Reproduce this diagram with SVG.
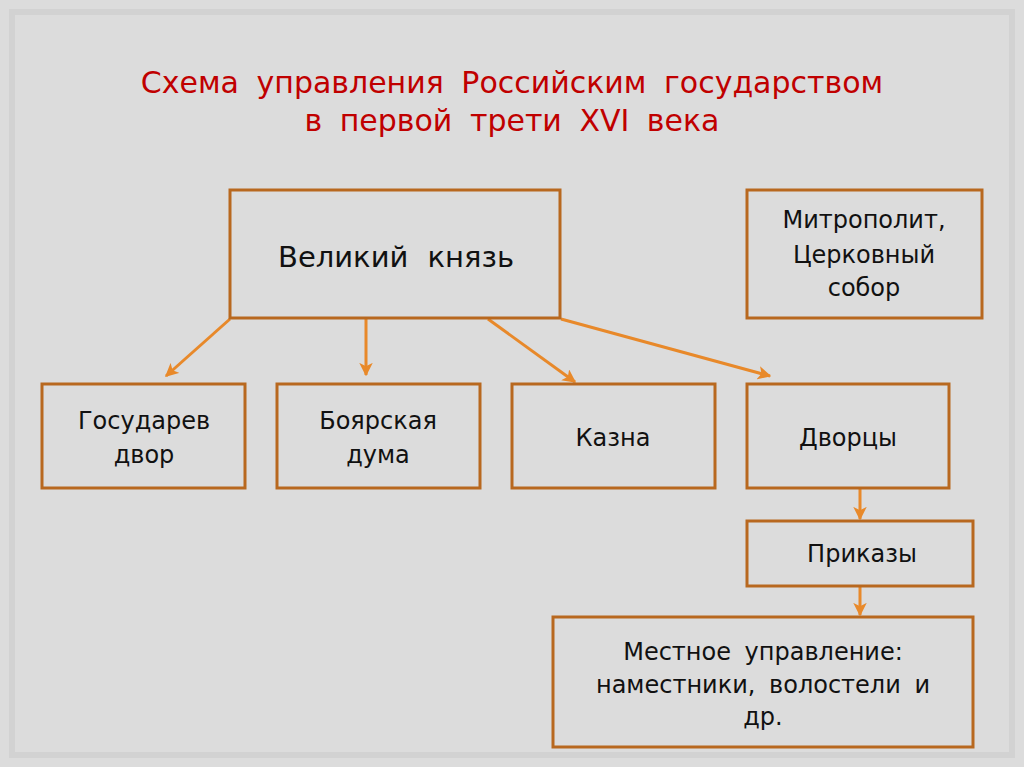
<svg xmlns="http://www.w3.org/2000/svg" width="1024" height="767" viewBox="0 0 1024 767">
<defs>
<style>
.box{fill:none;stroke:#B8681F;stroke-width:3}
.lbl{font-family:"DejaVu Sans","Open Sans",sans-serif;font-size:24px;fill:#111;text-anchor:middle;word-spacing:6px}
.title{font-family:"DejaVu Sans","Open Sans",sans-serif;font-size:30px;fill:#C00000;text-anchor:middle;word-spacing:8px}
.arr{stroke:#E8892A;stroke-width:3;fill:none;marker-end:url(#ah)}
</style>
<marker id="ah" viewBox="0 0 10 10" refX="9" refY="5" markerWidth="4.5" markerHeight="4.5" orient="auto" markerUnits="strokeWidth">
<path d="M0,0 L10,5 L0,10 L2.5,5 Z" fill="#E8892A"/>
</marker>
</defs>
<rect width="1024" height="767" fill="#DCDCDC"/>
<rect x="12" y="12" width="1000" height="743" fill="none" stroke="#D2D2D2" stroke-width="6"/>
<g id="title">
<text class="title" x="512" y="93">Схема управления Российским государством</text>
<text class="title" x="512" y="131">в первой трети XVI века</text>
</g>
<g id="connectors">
<line class="arr" x1="230" y1="319" x2="166" y2="376"/>
<line class="arr" x1="366" y1="319" x2="366" y2="375"/>
<line class="arr" x1="488" y1="319" x2="575" y2="382"/>
<line class="arr" x1="561" y1="319" x2="770" y2="376"/>
<line class="arr" x1="860" y1="489" x2="860" y2="519"/>
<line class="arr" x1="860" y1="587" x2="860" y2="615"/>
</g>
<g id="n-grandprince">
<rect class="box" x="230" y="190" width="330" height="128"/>
<text class="lbl" x="396" y="267" style="font-size:29px;word-spacing:10px">Великий князь</text>
</g>
<g id="n-metropolitan">
<rect class="box" x="747" y="190" width="235" height="128"/>
<text class="lbl" x="864" y="228">Митрополит,</text>
<text class="lbl" x="864" y="263">Церковный</text>
<text class="lbl" x="864" y="296">собор</text>
</g>
<g id="n-court">
<rect class="box" x="42" y="384" width="203" height="104"/>
<text class="lbl" x="144" y="429">Государев</text>
<text class="lbl" x="144" y="463">двор</text>
</g>
<g id="n-duma">
<rect class="box" x="277" y="384" width="203" height="104"/>
<text class="lbl" x="378" y="429">Боярская</text>
<text class="lbl" x="378" y="463">дума</text>
</g>
<g id="n-treasury">
<rect class="box" x="512" y="384" width="203" height="104"/>
<text class="lbl" x="613" y="446">Казна</text>
</g>
<g id="n-palaces">
<rect class="box" x="747" y="384" width="202" height="104"/>
<text class="lbl" x="848" y="446">Дворцы</text>
</g>
<g id="n-prikazy">
<rect class="box" x="747" y="521" width="226" height="65"/>
<text class="lbl" x="862" y="562">Приказы</text>
</g>
<g id="n-local">
<rect class="box" x="553" y="617" width="420" height="130"/>
<text class="lbl" x="763" y="660">Местное управление:</text>
<text class="lbl" x="763" y="693">наместники, волостели и</text>
<text class="lbl" x="763" y="725">др.</text>
</g>
</svg>
